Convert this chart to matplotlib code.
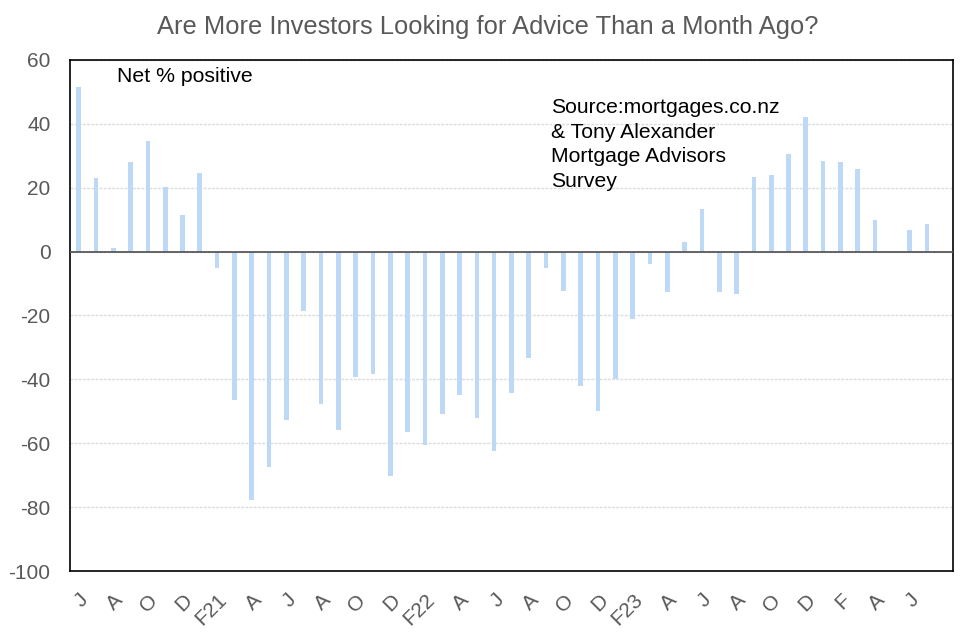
import numpy as np
import matplotlib
matplotlib.use("Agg")
import matplotlib.pyplot as plt

plt.rcParams['font.family'] = ['Liberation Sans', 'DejaVu Sans']
plt.rcParams['axes.unicode_minus'] = False

# monthly, Jun 2020 .. Aug 2024 (May 24 and Aug 24 have no reading)
months = ["J", "J", "A", "S", "O", "N", "D", "J", "F21", "M", "A", "M",
          "J", "J", "A", "S", "O", "N", "D", "J", "F22", "M", "A", "M",
          "J", "J", "A", "S", "O", "N", "D", "J", "F23", "M", "A", "M",
          "J", "J", "A", "S", "O", "N", "D", "J", "F", "M", "A", "M",
          "J", "J", ""]
net_positive = [51.5, 23.2, 1.2, 28.0, 34.5, 20.1, 11.4, 24.6,
                -5.2, -46.6, -77.9, -67.3, -52.8, -18.7, -47.8, -56.0,
                -39.2, -38.4, -70.3, -56.6, -60.7, -51.0, -45.0, -52.2,
                -62.3, -44.4, -33.4, -5.2, -12.4, -42.2, -50.0, -40.0,
                -21.2, -3.9, -12.8, 3.0, 13.3, -12.8, -13.4, 23.5,
                24.1, 30.7, 42.2, 28.5, 27.9, 26.0, 9.8, np.nan,
                6.7, 8.6, np.nan]

title = "Are More Investors Looking for Advice Than a Month Ago?"
source = "Source:mortgages.co.nz\n& Tony Alexander\nMortgage Advisors\nSurvey"

grey = "#595959"

fig = plt.figure(figsize=(9.76, 6.36), dpi=100)
ax = fig.add_axes([0.0717, 0.1022, 0.9047, 0.8035])

x = np.arange(len(months))
ax.bar(x, net_positive, width=0.27, color="#BDD9F5", zorder=2)
ax.axhline(0, color="#595959", lw=1.3, zorder=3)

ax.set_xlim(-0.5, len(months) - 0.5)
ax.set_ylim(-100, 60)
ax.set_yticks(np.arange(-100, 61, 20))
ax.yaxis.grid(True, color="#DCDCDC", lw=1.0, ls=(0, (2, 1)), zorder=0)

ax.set_xticks(x[:-1:2])
ax.set_xticklabels(months[:-1:2], rotation=45, ha="right", va="top",
                   rotation_mode="anchor")
ax.tick_params(axis="both", length=0, labelsize=15, colors=grey)
ax.tick_params(axis="y", pad=14)
ax.tick_params(axis="x", pad=14)

for s in ax.spines.values():
    s.set_color("black")
    s.set_linewidth(1.2)

fig.text(0.5, 0.958, title, ha="center", va="center", fontsize=18.4, color=grey)
ax.text(0.053, 0.968, "Net % positive", transform=ax.transAxes,
        fontsize=15.3, color="black", va="center")
ax.text(0.545, 0.925, source, transform=ax.transAxes, fontsize=15.2,
        color="black", va="top", linespacing=1.36)

fig.savefig("out.png", dpi=100)
